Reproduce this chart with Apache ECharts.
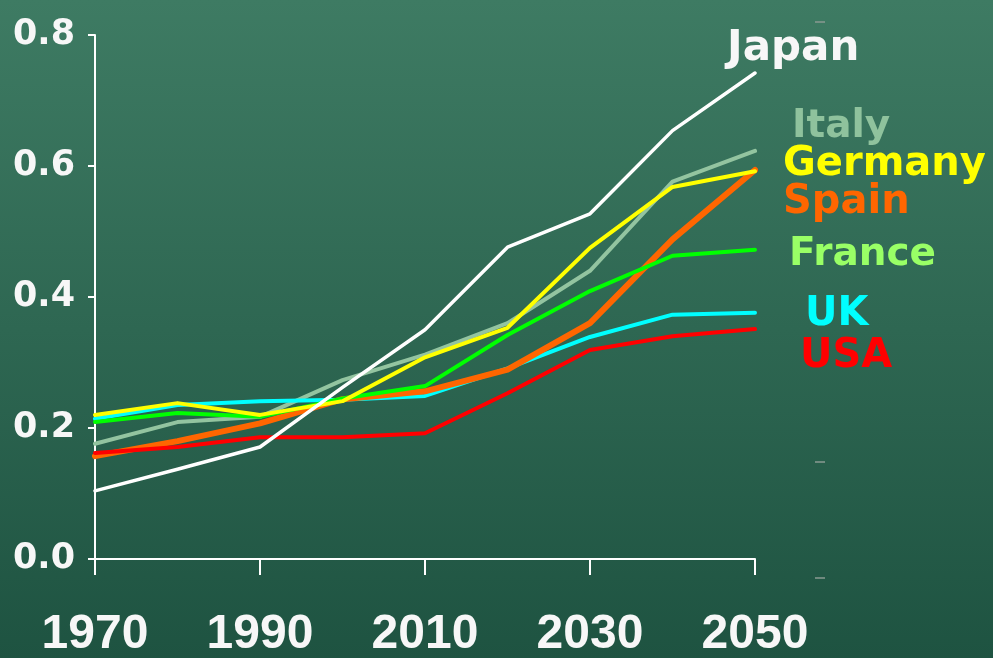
<!DOCTYPE html>
<html>
<head>
<meta charset="utf-8">
<script src="https://cdn.jsdelivr.net/npm/echarts@6/dist/echarts.min.js"></script>
<style>
  html, body { margin: 0; padding: 0; }
  #chart { width: 993px; height: 658px; }
</style>
</head>
<body>
<div id="chart"></div>
<script>
// ---- data ----
var years = [1970, 1980, 1990, 2000, 2010, 2020, 2030, 2040, 2050];
var japan   = [0.104, 0.137, 0.171, 0.262, 0.350, 0.476, 0.527, 0.654, 0.742];
var italy   = [0.176, 0.209, 0.217, 0.273, 0.312, 0.360, 0.440, 0.576, 0.623];
var germany = [0.220, 0.238, 0.220, 0.241, 0.308, 0.353, 0.475, 0.568, 0.592];
var spain   = [0.157, 0.180, 0.207, 0.244, 0.256, 0.289, 0.360, 0.488, 0.594];
var france  = [0.209, 0.223, 0.217, 0.245, 0.264, 0.342, 0.409, 0.463, 0.472];
var uk      = [0.214, 0.235, 0.241, 0.243, 0.249, 0.291, 0.339, 0.373, 0.376];
var usa     = [0.162, 0.171, 0.186, 0.186, 0.192, 0.253, 0.319, 0.340, 0.351];
var xTicks = [1970, 1990, 2010, 2030, 2050];
var yTicks = [0.0, 0.2, 0.4, 0.6, 0.8];
var seriesNames = ['Italy', 'UK', 'Spain', 'France', 'Germany', 'USA', 'Japan'];

function pairs(vals) { return years.map(function (y, i) { return [y, vals[i]]; }); }

var styles = {
  Japan:   { color: '#ffffff', width: 3.5, label: '#f7f7f7', lx: 727, ly: 45,  size: 42 },
  Italy:   { color: '#93c4a0', width: 4,   label: '#8fc29d', lx: 792, ly: 123, size: 39 },
  Germany: { color: '#ffff00', width: 4,   label: '#ffff00', lx: 783, ly: 161, size: 40 },
  Spain:   { color: '#ff6600', width: 6,   label: '#ff6600', lx: 783, ly: 199, size: 40 },
  France:  { color: '#00ff00', width: 4,   label: '#99ff66', lx: 789, ly: 251, size: 39 },
  UK:      { color: '#00ffff', width: 4,   label: '#00ffff', lx: 805, ly: 311, size: 40 },
  USA:     { color: '#ff0000', width: 4,   label: '#ff0000', lx: 800, ly: 353, size: 40 }
};
var dataMap = { Japan: japan, Italy: italy, Germany: germany, Spain: spain, France: france, UK: uk, USA: usa };

var series = seriesNames.map(function (n) {
  return {
    name: n, type: 'line', data: pairs(dataMap[n]), symbol: 'none', smooth: false,
    lineStyle: { color: styles[n].color, width: styles[n].width, cap: 'round', join: 'round' },
    animation: false
  };
});

var labelGraphics = ['Japan', 'Italy', 'Germany', 'Spain', 'France', 'UK', 'USA'].map(function (n) {
  var s = styles[n];
  return {
    type: 'text', left: s.lx, top: s.ly - s.size * 0.6 + 8,
    style: { text: n, fill: s.label, font: 'bold ' + s.size + 'px "DejaVu Sans"' }
  };
});
var dashes = [22, 462, 578].map(function (y) {
  return { type: 'line', shape: { x1: 815, y1: y, x2: 825, y2: y }, style: { stroke: '#8a9a92', lineWidth: 1.5 } };
});

var chart = echarts.init(document.getElementById('chart'), null, { renderer: 'canvas' });
chart.setOption({
  animation: false,
  backgroundColor: {
    type: 'linear', x: 0, y: 0, x2: 0, y2: 1,
    colorStops: [{ offset: 0, color: '#3e7b63' }, { offset: 1, color: '#1e5341' }]
  },
  grid: { left: 95, right: 238, top: 35, bottom: 99, containLabel: false, outerBoundsMode: 'none' },
  xAxis: {
    type: 'value', min: xTicks[0], max: xTicks[xTicks.length - 1], interval: 20,
    axisLine: { show: true, lineStyle: { color: '#ffffff', width: 2 } },
    axisTick: { show: true, length: 16, lineStyle: { color: '#ffffff', width: 2 } },
    splitLine: { show: false },
    axisLabel: {
      color: '#f7f7f7', fontFamily: '"Liberation Sans", Arial', fontWeight: 'bold',
      fontSize: 48, margin: 52,
      formatter: function (v) { return String(v); }
    }
  },
  yAxis: {
    type: 'value', min: yTicks[0], max: yTicks[yTicks.length - 1], interval: 0.2,
    axisLine: { show: true, lineStyle: { color: '#ffffff', width: 2 } },
    axisTick: { show: true, length: 7, lineStyle: { color: '#ffffff', width: 2 } },
    splitLine: { show: false },
    axisLabel: {
      color: '#f7f7f7', fontFamily: '"DejaVu Sans"', fontWeight: 'bold', fontSize: 35, margin: 20,
      formatter: function (v) { return v.toFixed(1); }
    }
  },
  graphic: labelGraphics.concat(dashes),
  series: series
});
</script>
</body>
</html>
